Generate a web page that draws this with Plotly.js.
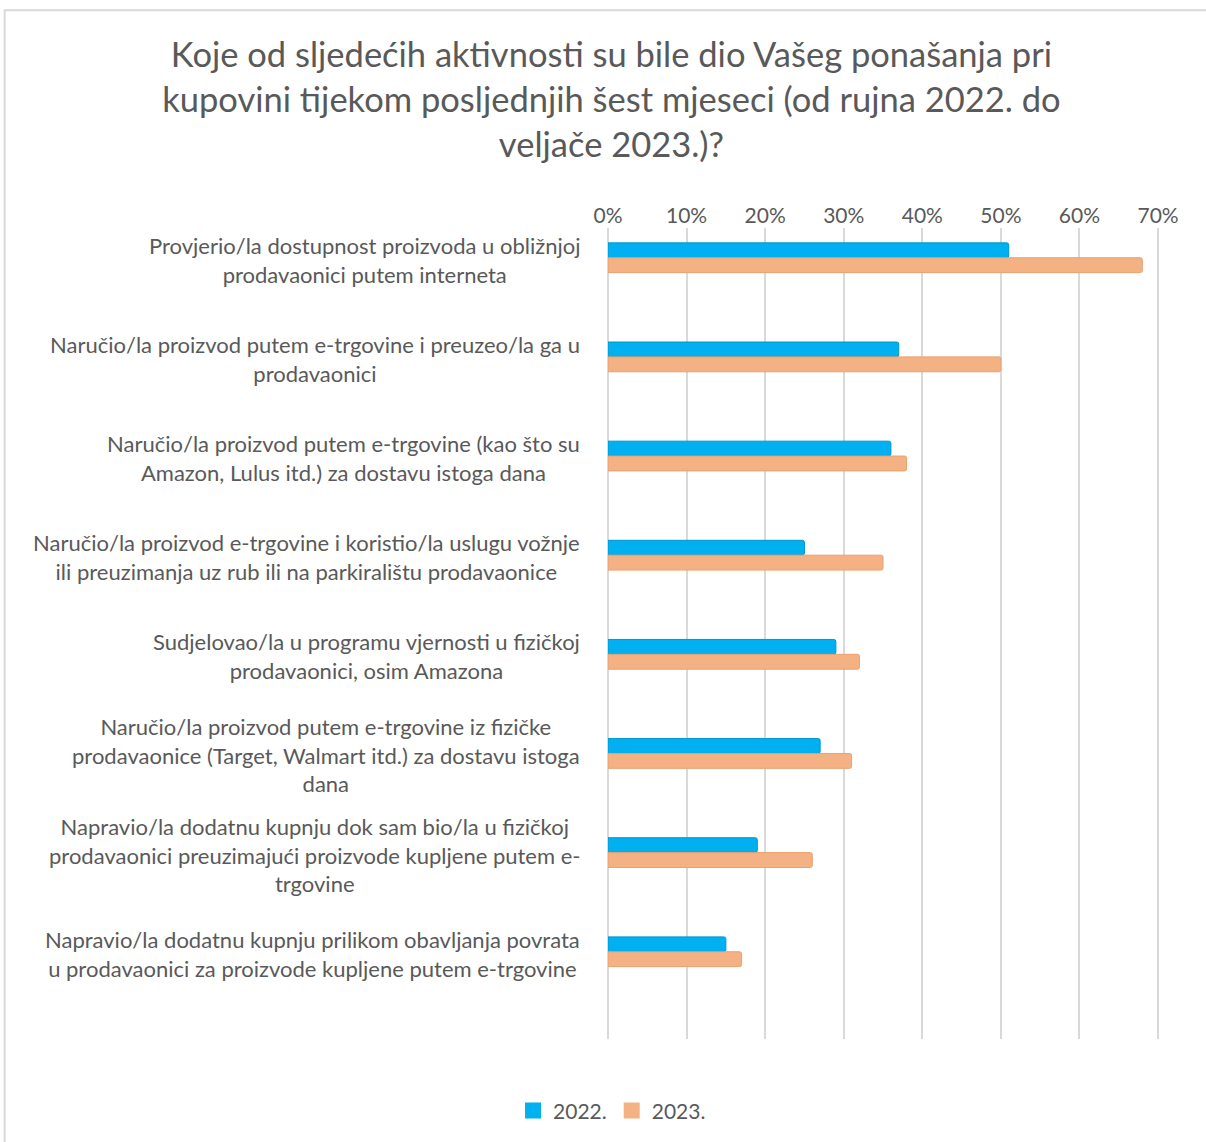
<!DOCTYPE html>
<html>
<head>
<meta charset="utf-8">
<script src="https://cdn.plot.ly/plotly-3.0.1.min.js"></script>
<style>html,body{margin:0;padding:0;background:#fff;}#chart{width:1206px;height:1142px;}</style>
</head>
<body>
<div id="chart"></div>
<script>
const categories = [
  "Provjerio/la dostupnost proizvoda u obližnjoj<br>prodavaonici putem interneta",
  "Naručio/la proizvod putem e-trgovine i preuzeo/la ga u<br>prodavaonici",
  "Naručio/la proizvod putem e-trgovine (kao što su<br>Amazon, Lulus itd.) za dostavu istoga dana",
  "Naručio/la proizvod e-trgovine i koristio/la uslugu vožnje<br>ili preuzimanja uz rub ili na parkiralištu prodavaonice",
  "Sudjelovao/la u programu vjernosti u fizičkoj<br>prodavaonici, osim Amazona",
  "Naručio/la proizvod putem e-trgovine iz fizičke<br>prodavaonice (Target, Walmart itd.) za dostavu istoga<br>dana",
  "Napravio/la dodatnu kupnju dok sam bio/la u fizičkoj<br>prodavaonici preuzimajući proizvode kupljene putem e-<br>trgovine",
  "Napravio/la dodatnu kupnju prilikom obavljanja povrata<br>u prodavaonici za proizvode kupljene putem e-trgovine"
];
const values2022 = [0.51, 0.37, 0.36, 0.25, 0.29, 0.27, 0.19, 0.15];
const values2023 = [0.68, 0.50, 0.38, 0.35, 0.32, 0.31, 0.26, 0.17];
const seriesNames = ["2022.", "2023."];
const seriesColors = ["#00B0F0", "#F4B183"];
const tickVals = [0, 0.1, 0.2, 0.3, 0.4, 0.5, 0.6, 0.7];
const tickText = ["0%", "10%", "20%", "30%", "40%", "50%", "60%", "70%"];

const idx = categories.map((c, i) => i);
const FONT = "Lato, 'Open Sans', sans-serif";

const traces = [
  {type: "bar", orientation: "h", name: seriesNames[0], x: values2022, y: idx, showlegend: false,
   marker: {color: seriesColors[0], line: {color: "#0096CC", width: 1}, cornerradius: 2}},
  {type: "bar", orientation: "h", name: seriesNames[1], x: values2023, y: idx, showlegend: false,
   marker: {color: seriesColors[1], line: {color: "#E9A06F", width: 1}, cornerradius: 2}},
  {type: "scatter", mode: "markers", name: seriesNames[0], x: [null], y: [null],
   marker: {symbol: "square", size: 18, color: seriesColors[0]}},
  {type: "scatter", mode: "markers", name: seriesNames[1], x: [null], y: [null],
   marker: {symbol: "square", size: 18, color: seriesColors[1]}}
];

const annotations = categories.map((c, i) => ({
  xref: "paper", yref: "y", x: -0.048, y: i, yshift: -2, text: c, showarrow: false,
  xanchor: "right", yanchor: "middle", align: "center",
  font: {family: FONT, size: 22, color: "#595959"}
}));

const layout = {
  width: 1206, height: 1142,
  margin: {l: 608, r: 46, t: 228, b: 102},
  paper_bgcolor: "#ffffff", plot_bgcolor: "#ffffff",
  title: {
    text: "Koje od sljedećih aktivnosti su bile dio Vašeg ponašanja pri<br>kupovini tijekom posljednjih šest mjeseci (od rujna 2022. do<br>veljače 2023.)?",
    font: {family: FONT, size: 34.5, color: "#595959"},
    x: 0.507, xanchor: "center", y: 0.941, yanchor: "top"
  },
  barmode: "group", bargap: 0.7, bargroupgap: -0.1,
  xaxis: {
    side: "top", range: [0, 0.7025], tickvals: tickVals, ticktext: tickText,
    showgrid: true, gridcolor: "#D9D9D9", gridwidth: 2,
    zeroline: true, zerolinecolor: "#D9D9D9", zerolinewidth: 2,
    showline: false, ticks: "", ticklabelstandoff: 0,
    tickfont: {family: FONT, size: 21, color: "#595959"}, fixedrange: true
  },
  yaxis: {
    range: [7.88, -0.3], showticklabels: false, showgrid: false, zeroline: false,
    showline: false, ticks: "", fixedrange: true
  },
  showlegend: true,
  legend: {
    orientation: "h", x: 0.0073, xanchor: "center", y: -0.0874, yanchor: "middle",
    font: {family: FONT, size: 21, color: "#595959"}, traceorder: "normal",
    itemsizing: "trace", itemwidth: 30
  },
  annotations: annotations,
  shapes: [
    {type: "rect", xref: "paper", yref: "paper", x0: -1.093, x1: 1.1, y0: -0.15, y1: 1.2685,
     line: {color: "#D9D9D9", width: 2}, fillcolor: "rgba(0,0,0,0)", layer: "below"}
  ]
};

Plotly.newPlot("chart", traces, layout, {displayModeBar: false, staticPlot: true});
</script>
</body>
</html>
